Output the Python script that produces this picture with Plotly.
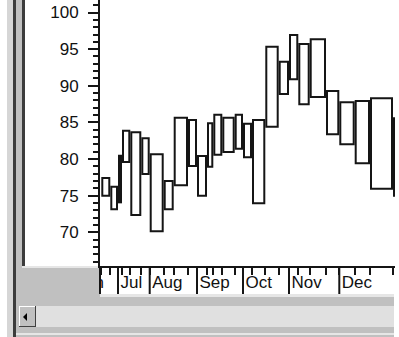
import numpy as np
import plotly.graph_objects as go

# ---- data (equivolume boxes, one per week) ----
volume = [90, 77, 40, 83, 110, 84, 140, 100, 143, 90, 100, 63, 90, 124, 83,
          90, 133, 134, 103, 93, 114, 163, 133, 154, 153, 230, 120]
high = [77.41, 76.22, 80.45, 83.87, 83.65, 82.83, 80.65, 77.00, 85.64, 85.33,
        80.41, 84.88, 86.05, 85.64, 86.05, 84.82, 85.33, 95.33, 93.28, 96.93,
        95.70, 96.34, 89.29, 87.74, 87.92, 88.29, 85.56]
low = [74.99, 73.14, 74.09, 79.59, 72.36, 77.96, 70.14, 73.14, 76.41, 79.05,
       74.99, 78.95, 80.59, 80.96, 81.41, 80.24, 73.96, 84.41, 88.88, 90.88,
       87.47, 88.47, 83.38, 82.01, 79.42, 75.95, 74.99]

months = ["Jun", "Jul", "Aug", "Sep", "Oct", "Nov", "Dec"]
month_first_box = [None, 2, 6, 10, 15, 19, 23]   # first weekly box of each month
jun_start = -273                                  # June began before the visible boxes

y_major = [70, 75, 80, 85, 90, 95, 100]
x_range = [-13, 2937]
y_range = [65.40, 101.71]

# ---- derived ----
vol = np.array(volume, dtype=float)
edges = np.concatenate([[0.0], np.cumsum(vol)])
mid = edges[:-1] + vol / 2
month_starts = [jun_start if i is None else float(edges[i]) for i in month_first_box]

W, H = 399, 337
def px(x):
    return x / W
def py(y):
    return 1 - y / H

FONT = "Liberation Sans, Arial, sans-serif"
DARK = "#151515"
BOX_INSET = 20        # style: small inset so neighbouring box borders sit side by side
LABEL_PAD = 25        # style: gap between month separator and its label

fig = go.Figure()

fig.add_trace(go.Bar(
    x=mid, y=np.array(high) - np.array(low), base=low, width=vol - BOX_INSET,
    marker=dict(color="white", line=dict(color=DARK, width=2)),
    hoverinfo="skip", showlegend=False, xaxis="x", yaxis="y",
))

# month separators and labels on the axis strip (second subplot)
sep_x, sep_y = [], []
for s in month_starts:
    sep_x += [s, s, None]
    sep_y += [1, 0, None]
fig.add_trace(go.Scatter(
    x=sep_x, y=sep_y, mode="lines", line=dict(color=DARK, width=2),
    xaxis="x2", yaxis="y2", showlegend=False, hoverinfo="skip",
))
fig.add_trace(go.Scatter(
    x=[s + LABEL_PAD for s in month_starts], y=[0.38] * len(months), mode="text",
    text=months, textposition="middle right",
    textfont=dict(family=FONT, size=17, color="#111"),
    cliponaxis=True, xaxis="x2", yaxis="y2", showlegend=False, hoverinfo="skip",
))

x_dom = [px(100), px(395)]
fig.update_layout(
    width=W, height=H, autosize=False,
    margin=dict(l=0, r=0, t=0, b=0, pad=0),
    paper_bgcolor="white", plot_bgcolor="white",
    bargap=0, barmode="overlay", hovermode=False,
    xaxis=dict(domain=x_dom, range=x_range, anchor="y",
               showline=True, linecolor=DARK, linewidth=2,
               ticks="outside", tickvals=list(edges), ticklen=7, tickwidth=2,
               tickcolor=DARK, showticklabels=False, showgrid=False,
               zeroline=False, automargin=False, fixedrange=True),
    yaxis=dict(domain=[py(266), 1], range=y_range, anchor="x",
               showline=True, linecolor=DARK, linewidth=2,
               ticks="outside", tickvals=y_major, ticklen=10, tickwidth=2,
               tickcolor=DARK, ticklabelstandoff=6,
               minor=dict(dtick=1, ticklen=5, tickwidth=2, tickcolor=DARK, ticks="outside"),
               tickfont=dict(family=FONT, size=17, color="#111"),
               showgrid=False, zeroline=False, automargin=False, fixedrange=True),
    xaxis2=dict(domain=x_dom, range=x_range, anchor="y2", visible=False, fixedrange=True),
    yaxis2=dict(domain=[py(294), py(266)], range=[0, 1], anchor="x2", visible=False,
                fixedrange=True),
)

shapes = []
def rect(x0, y0, x1, y1, color, layer="below"):
    shapes.append(dict(type="rect", xref="paper", yref="paper",
                       x0=px(x0), x1=px(x1), y0=py(y1), y1=py(y0),
                       fillcolor=color, line=dict(width=0), layer=layer))

# window frame on the left
rect(7, 0, 13, 337, "#d6d6d6")
rect(13, 0, 16, 337, "#3c3c3c")
rect(16, 0, 22, 337, "#c0c0c0")
rect(22, 0, 25, 266, "#3c3c3c")
# gray area below the chart
rect(16, 266, 100, 337, "#c0c0c0")
rect(16, 294, 394, 337, "#c0c0c0")
rect(22, 266, 100, 268, "#e6e6e6")
rect(100, 294, 394, 297, "#e6e6e6")
# strip left border
rect(99, 266, 101, 294, DARK, layer="above")
# scrollbar
rect(19, 306, 394, 327, "#e0e0e0")
rect(19, 306, 36, 327, "#c0c0c0")
rect(19, 306, 36, 307, "#ffffff")
rect(19, 306, 20, 327, "#ffffff")
rect(19, 326, 36, 327, "#404040")
rect(35, 306, 36, 327, "#404040")
rect(16, 333, 394, 335, "#e6e6e6")
shapes.append(dict(type="path", xref="paper", yref="paper",
                   path=f"M {px(23)},{py(317)} L {px(27)},{py(313)} L {px(27)},{py(321)} Z",
                   fillcolor="black", line=dict(width=0), layer="above"))
fig.update_layout(shapes=shapes)

fig.write_html("out.html", config={"displayModeBar": False, "staticPlot": True},
               post_script="document.body.style.margin='0';")
